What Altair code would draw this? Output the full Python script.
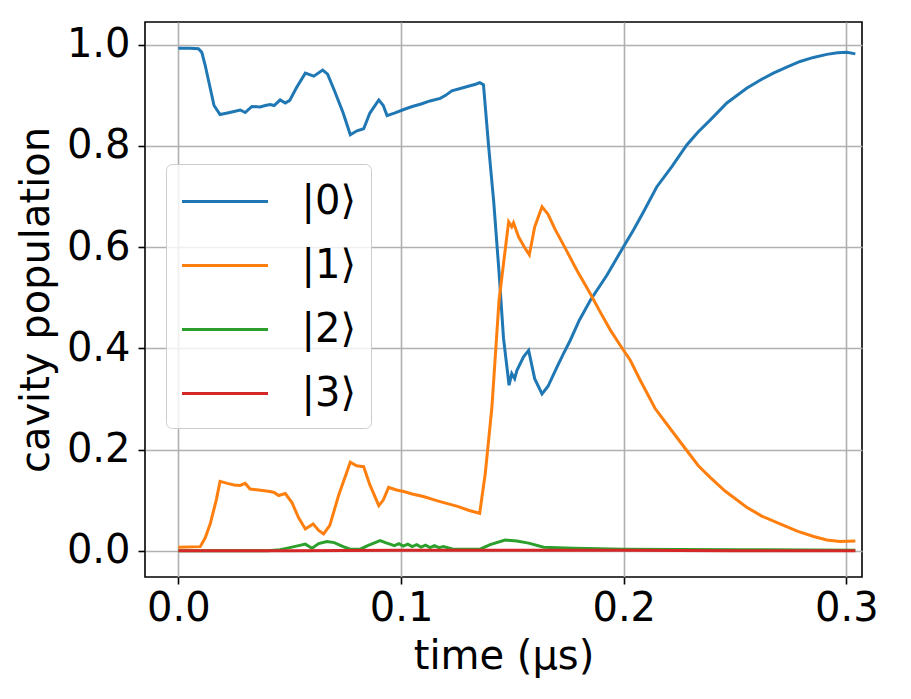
import altair as alt
import pandas as pd

# |0> population
t0 = [0.000, 0.005, 0.009, 0.0105, 0.012, 0.014, 0.016, 0.0187, 0.022, 0.025, 0.0278, 0.030, 0.033,
      0.0367, 0.039, 0.0412, 0.043, 0.0457, 0.048, 0.050, 0.053, 0.057, 0.0608, 0.0648, 0.067, 0.070,
      0.074, 0.0772, 0.0802, 0.0832, 0.086, 0.090, 0.092, 0.0937, 0.097, 0.1012, 0.105, 0.109, 0.113,
      0.1176, 0.120, 0.1228, 0.127, 0.131, 0.1335, 0.1353, 0.1370, 0.1393, 0.1416, 0.144, 0.146,
      0.1485, 0.1497, 0.151, 0.152, 0.155, 0.1573, 0.160, 0.1633, 0.166, 0.170, 0.173, 0.176, 0.180,
      0.185, 0.1925, 0.1999, 0.2045, 0.2089, 0.2148, 0.2216, 0.2283, 0.2335, 0.2388, 0.2463, 0.2552,
      0.2612, 0.2672, 0.2732, 0.2792, 0.2852, 0.2912, 0.2960, 0.3002, 0.3040]
p0 = [0.993, 0.993, 0.992, 0.985, 0.960, 0.920, 0.880, 0.862, 0.865, 0.868, 0.871, 0.866, 0.878,
      0.877, 0.880, 0.882, 0.880, 0.891, 0.885, 0.890, 0.915, 0.944, 0.938, 0.950, 0.942, 0.910,
      0.865, 0.822, 0.830, 0.834, 0.865, 0.891, 0.880, 0.860, 0.865, 0.872, 0.878, 0.883, 0.889,
      0.894, 0.900, 0.909, 0.914, 0.919, 0.922, 0.925, 0.921, 0.800, 0.690, 0.550, 0.420,
      0.327, 0.350, 0.340, 0.356, 0.383, 0.396, 0.340, 0.310, 0.325, 0.363, 0.390, 0.416, 0.455,
      0.495, 0.545, 0.601, 0.635, 0.670, 0.719, 0.759, 0.802, 0.828, 0.851, 0.885, 0.914,
      0.930, 0.944, 0.956, 0.967, 0.975, 0.981, 0.984, 0.985, 0.982]

# |1> population
t1 = [0.000, 0.0098, 0.012, 0.0143, 0.017, 0.0187, 0.022, 0.025, 0.0277, 0.030, 0.0322, 0.036,
      0.0412, 0.043, 0.045, 0.048, 0.051, 0.054, 0.057, 0.0605, 0.063, 0.0652, 0.068, 0.072, 0.0772,
      0.080, 0.0832, 0.086, 0.090, 0.092, 0.0944, 0.098, 0.1012, 0.105, 0.110, 0.116, 0.120, 0.125,
      0.131, 0.1353, 0.1378, 0.1408, 0.144, 0.1483, 0.1497, 0.1505, 0.1528, 0.1558, 0.1576, 0.160,
      0.1633, 0.166, 0.1693, 0.173, 0.179, 0.185, 0.1894, 0.194, 0.1984, 0.203, 0.2074, 0.2141,
      0.2209, 0.2283, 0.2335, 0.2388, 0.2455, 0.2552, 0.2622, 0.2702, 0.2782, 0.2853, 0.2912,
      0.2971, 0.3040]
p1 = [0.007, 0.008, 0.025, 0.053, 0.100, 0.137, 0.133, 0.130, 0.129, 0.133, 0.122, 0.120,
      0.117, 0.115, 0.109, 0.113, 0.095, 0.065, 0.043, 0.053, 0.040, 0.033, 0.050, 0.110, 0.175,
      0.168, 0.166, 0.130, 0.089, 0.100, 0.125, 0.120, 0.117, 0.112, 0.107, 0.099, 0.094, 0.088,
      0.079, 0.074, 0.152, 0.284, 0.495, 0.650, 0.640, 0.648, 0.620, 0.597, 0.585, 0.640,
      0.680, 0.665, 0.634, 0.604, 0.554, 0.508, 0.472, 0.436, 0.406, 0.376, 0.337, 0.281,
      0.241, 0.198, 0.168, 0.145, 0.118, 0.086, 0.068, 0.053, 0.038, 0.028, 0.021,
      0.018, 0.019]

# |2> population
t2 = [0.000, 0.040, 0.0457, 0.050, 0.054, 0.057, 0.060, 0.063, 0.0667, 0.070, 0.074, 0.0772, 0.0817,
      0.085, 0.0906, 0.093, 0.095, 0.097, 0.099, 0.101, 0.103, 0.105, 0.107, 0.109, 0.111, 0.113,
      0.115, 0.117, 0.119, 0.1234, 0.1355, 0.140, 0.1467, 0.152, 0.1573, 0.164, 0.1774, 0.200,
      0.250, 0.304]
p2 = [0.000, 0.000, 0.002, 0.006, 0.010, 0.013, 0.005, 0.014, 0.018, 0.016, 0.008, 0.003, 0.003,
      0.010, 0.020, 0.016, 0.013, 0.010, 0.014, 0.009, 0.013, 0.008, 0.012, 0.007, 0.011, 0.006,
      0.010, 0.006, 0.008, 0.003, 0.003, 0.012, 0.021, 0.019, 0.015, 0.007, 0.005, 0.003,
      0.002, 0.001]

# |3> population
t3 = [0.000, 0.050, 0.100, 0.150, 0.200, 0.250, 0.304]
p3 = [0.000, 0.000, 0.001, 0.001, 0.001, 0.000, 0.000]

states = ["|0⟩", "|1⟩", "|2⟩", "|3⟩"]
colors = ["#1f77b4", "#ff7f0e", "#2ca02c", "#d62728"]

rows = []
for name, ts, ps in zip(states, [t0, t1, t2, t3], [p0, p1, p2, p3]):
    for i, (t, p) in enumerate(zip(ts, ps)):
        rows.append({"time": t, "pop": p, "state": name, "order": i})
df = pd.DataFrame(rows)

FONT = "DejaVu Sans"

chart = alt.Chart(df).mark_line(strokeWidth=3, clip=True).encode(
    x=alt.X("time:Q",
            scale=alt.Scale(domain=[-0.015, 0.307], nice=False, zero=False),
            axis=alt.Axis(values=[0.0, 0.1, 0.2, 0.3], format=".1f", title="time (μs)")),
    y=alt.Y("pop:Q",
            scale=alt.Scale(domain=[-0.052, 1.045], nice=False, zero=False),
            axis=alt.Axis(values=[0.0, 0.2, 0.4, 0.6, 0.8, 1.0], format=".1f", title="cavity population")),
    color=alt.Color("state:N",
                    scale=alt.Scale(domain=states, range=colors),
                    legend=alt.Legend(title=None, orient="none", legendX=21, legendY=142)),
    order="order:Q",
).properties(
    width=717, height=555,
    autosize=alt.AutoSizeParams(type="none"),
    padding={"left": 145, "top": 22, "right": 49, "bottom": 122},
).configure_view(
    stroke="black", strokeWidth=1.6
).configure_axis(
    grid=True, gridColor="#b0b0b0", gridWidth=1.6, gridOpacity=1,
    domain=False,
    ticks=True, tickColor="black", tickSize=7, tickWidth=1.6,
    labelFont=FONT, labelFontSize=40, labelColor="black",
    titleFont=FONT, titleFontSize=40, titleFontWeight="normal", titleColor="black",
    labelPadding=4,
).configure_axisY(
    titlePadding=10, labelPadding=8
).configure_axisX(
    titlePadding=8
).configure_legend(
    labelFont=FONT, labelFontSize=40, labelColor="black",
    symbolType="M-1,0H3", symbolSize=1849, symbolStrokeWidth=3,
    labelOffset=75, rowPadding=21, padding=14.5,
    cornerRadius=6, strokeColor="#cccccc", fillColor="rgba(255,255,255,0.8)",
)

chart.save("out.html", embed_options={"renderer": "svg", "actions": False})
